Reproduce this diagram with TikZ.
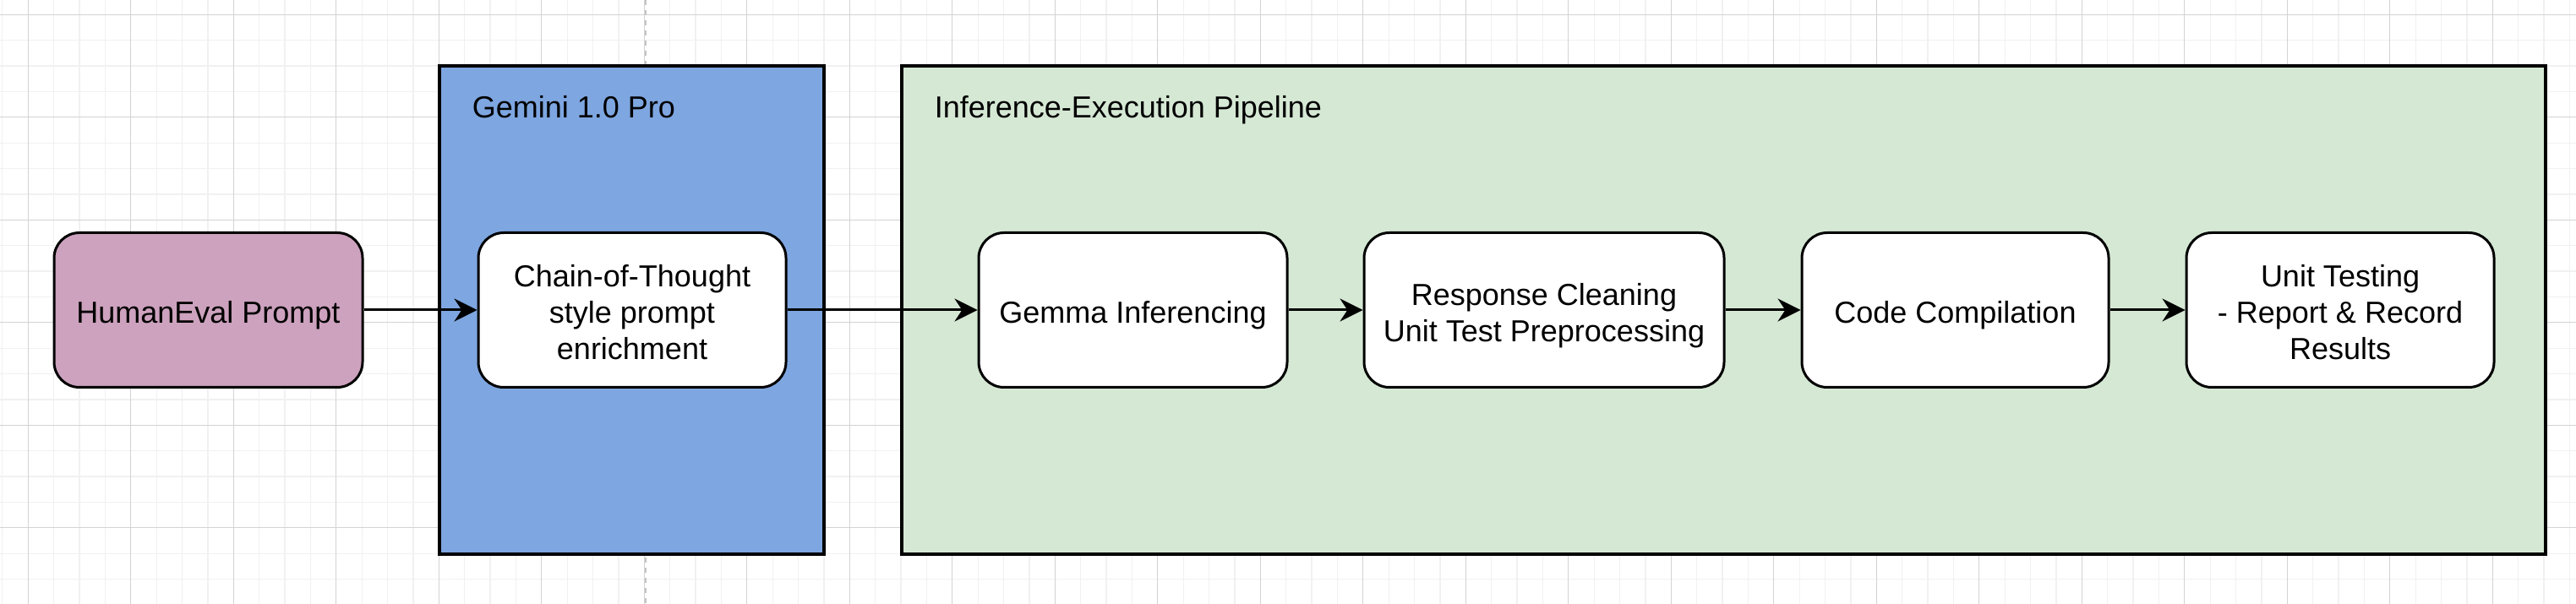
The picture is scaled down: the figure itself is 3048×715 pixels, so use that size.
\documentclass[tikz,border=0pt]{standalone}
\usepackage{fontspec}
\setmainfont{Liberation Sans}
\usetikzlibrary{arrows.meta}
\definecolor{gemblue}{HTML}{7EA6E0}
\definecolor{pipegreen}{HTML}{D5E8D4}
\definecolor{promptpink}{HTML}{CDA2BE}
\definecolor{minorgrid}{HTML}{F1F1F1}
\definecolor{majorgrid}{HTML}{D3D3D3}
\definecolor{pagedash}{HTML}{C4C4C4}
\begin{document}
\begin{tikzpicture}[x=0.25pt,y=-0.25pt,
  txt/.style={font=\fontsize{9}{10.8}\selectfont},
  stepbox/.style={txt, draw=black, line width=0.75pt, rounded corners=7.5pt, fill=white,
    minimum height=45.75pt, align=center, inner sep=0pt, text depth=0pt},
  oneline/.style={text height=7.9pt},
  twolines/.style={text height=18.7pt},
  threelines/.style={text height=29.5pt},
  container/.style={draw=black, line width=0.85pt, inner sep=0pt, minimum height=144.5pt},
  lbl/.style={txt, anchor=base west, inner sep=0pt},
  conn/.style={line width=0.75pt, -{Stealth[length=6.75pt,width=6.75pt,inset=2.2pt]}},
  minorline/.style={draw=minorgrid, line width=0.3pt},
  majorline/.style={draw=majorgrid, line width=0.3pt}]
\useasboundingbox (0,0) rectangle (3048,715);
\fill[white] (0,0) rectangle (3048,715);
\begin{scope}
\clip (0,0) rectangle (3048,715);
% grid
\foreach \i in {0,...,100} {\draw[minorline] ({2.9+30.375*\i},0) -- ({2.9+30.375*\i},715);}
\foreach \j in {0,...,22} {\draw[minorline] (0,{17.3+30.375*\j}) -- (3048,{17.3+30.375*\j});}
\foreach \i in {0,...,24} {\draw[majorline] ({33.3+121.5*\i},0) -- ({33.3+121.5*\i},715);}
\foreach \j in {0,...,5} {\draw[majorline] (0,{17.3+121.5*\j}) -- (3048,{17.3+121.5*\j});}
% page break line
\draw[pagedash, line width=0.5pt, dash pattern=on 1.5pt off 1.5pt] (764,0) -- (764,715);
\end{scope}
% containers
\node[container, fill=gemblue, minimum width=113.75pt] (gemini) at (747.5,367) {};
\node[container, fill=pipegreen, minimum width=486.25pt] (pipeline) at (2039.5,367) {};
\node[lbl] (geminilbl) at (558,139.3) {Gemini 1.0 Pro};
\node[lbl] (pipelinelbl) at (1105,139.3) {Inference-Execution Pipeline};
% steps
\node[stepbox, oneline, fill=promptpink, minimum width=91.25pt] (human) at (246.5,367) {HumanEval Prompt};
\node[stepbox, threelines, minimum width=91pt] (cot) at (748,367) {Chain-of-Thought\\style prompt\\enrichment};
\node[stepbox, oneline, minimum width=91.25pt] (gemma) at (1340.5,367) {Gemma Inferencing};
\node[stepbox, twolines, minimum width=106.5pt] (resp) at (1827,367) {Response Cleaning\\Unit Test Preprocessing};
\node[stepbox, oneline, minimum width=90.75pt] (code) at (2313.5,367) {Code Compilation};
\node[stepbox, threelines, minimum width=91pt] (unit) at (2769,367) {Unit Testing\\- Report \& Record\\Results};
% connectors
\draw[conn] (human) -- (cot);
\draw[conn] (cot) -- (gemma);
\draw[conn] (gemma) -- (resp);
\draw[conn] (resp) -- (code);
\draw[conn] (code) -- (unit);
\end{tikzpicture}
\end{document}
